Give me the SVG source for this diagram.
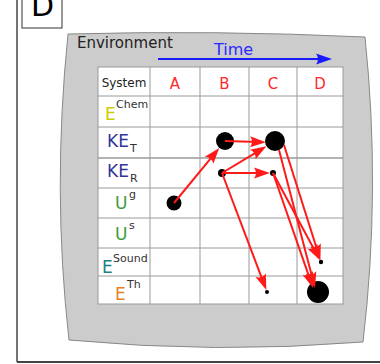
<svg xmlns="http://www.w3.org/2000/svg" width="380" height="364" viewBox="0 0 380 364">
<style>
text{font-family:"DejaVu Sans","Liberation Sans",sans-serif}
.grid{stroke:#9a9a9a;stroke-width:1;fill:none}
.hdr{font-size:15px;fill:#ff2a2a;text-anchor:middle}
.big{font-size:17px}
.small{font-size:11px;fill:#333}
.arr{stroke:#ff1a1a;stroke-width:2;fill:none;marker-end:url(#ah)}
.dot{fill:#000}
</style>
<defs>
<marker id="ah" markerUnits="userSpaceOnUse" orient="auto" markerWidth="30" markerHeight="30" refX="0" refY="0" overflow="visible">
<path d="M8,0 L-8,-5.5 Q-4,0 -8,5.5 Z" fill="#ff1a1a"/>
</marker>
<marker id="bh" markerUnits="userSpaceOnUse" orient="auto" markerWidth="30" markerHeight="30" refX="0" refY="0" overflow="visible">
<path d="M8,0 L-8,-5.5 Q-4,0 -8,5.5 Z" fill="#1a1aff"/>
</marker>
</defs>
<rect width="380" height="364" fill="#fff"/>
<!-- frame -->
<line x1="17" y1="0" x2="17" y2="362" stroke="#444" stroke-width="1.5"/>
<line x1="17" y1="362" x2="380" y2="362" stroke="#444" stroke-width="2"/>
<rect x="22" y="-2" width="40" height="30" fill="#fff" stroke="#333" stroke-width="1"/>
<text x="31" y="16" font-size="30" fill="#000">D</text>
<!-- environment -->
<path d="M68,34 Q215,30 365,37 Q381,190 363,342 Q215,354 69,340 Q52,190 68,34 Z" fill="#cccccc" stroke="#888" stroke-width="1"/>
<text x="77" y="48" font-size="15" fill="#222">Environment</text>
<text x="214" y="55" font-size="16" fill="#2a2aff">Time</text>
<line x1="158" y1="59" x2="324" y2="59" stroke="#1a1aff" stroke-width="2" marker-end="url(#bh)"/>
<!-- table -->
<rect x="98" y="67" width="245" height="237" fill="#fff"/>
<g class="grid">
<rect x="98" y="67" width="245" height="237"/>
<line x1="150" y1="67" x2="150" y2="304"/>
<line x1="200" y1="67" x2="200" y2="304"/>
<line x1="249" y1="67" x2="249" y2="304"/>
<line x1="297" y1="67" x2="297" y2="304"/>
<line x1="98" y1="96" x2="343" y2="96"/>
<line x1="98" y1="127" x2="343" y2="127"/>
<line x1="98" y1="158" x2="343" y2="158" stroke-width="1.5"/>
<line x1="98" y1="188" x2="343" y2="188"/>
<line x1="98" y1="218" x2="343" y2="218"/>
<line x1="98" y1="248" x2="343" y2="248"/>
<line x1="98" y1="276" x2="343" y2="276"/>
</g>
<text x="124" y="87" font-size="12" fill="#222" text-anchor="middle">System</text>
<text class="hdr" x="175" y="89">A</text>
<text class="hdr" x="224.5" y="89">B</text>
<text class="hdr" x="273" y="89">C</text>
<text class="hdr" x="320" y="89">D</text>
<!-- row labels -->
<text class="big" x="105" y="120" fill="#cccc00">E</text><text class="small" x="116" y="108">Chem</text>
<text class="big" x="107" y="147" fill="#333399">KE</text><text class="small" x="130" y="152">T</text>
<text class="big" x="107" y="177" fill="#333399">KE</text><text class="small" x="130" y="182">R</text>
<text class="big" x="115" y="209" fill="#3c9c3c">U</text><text class="small" x="129" y="198">g</text>
<text class="big" x="115" y="240" fill="#3c9c3c">U</text><text class="small" x="129" y="229">s</text>
<text class="big" x="102" y="273" fill="#1f8080">E</text><text class="small" x="113" y="262">Sound</text>
<text class="big" x="115" y="300" fill="#e8822a">E</text><text class="small" x="127" y="288">Th</text>
<!-- nodes -->
<g id="A-Ug"><circle class="dot" cx="174" cy="203" r="7.5"/></g>
<g id="B-KET"><circle class="dot" cx="225" cy="141" r="9"/></g>
<g id="C-KET"><circle class="dot" cx="275" cy="141" r="10"/></g>
<g id="B-KER"><circle class="dot" cx="222" cy="173" r="4"/></g>
<g id="C-KER"><circle class="dot" cx="273" cy="173" r="3"/></g>
<g id="D-ESound"><circle class="dot" cx="321" cy="262" r="2.2"/></g>
<g id="C-ETh"><circle class="dot" cx="267" cy="292" r="2"/></g>
<g id="D-ETh"><circle class="dot" cx="318" cy="292" r="11"/></g>
<!-- connectors -->
<g id="connectors">
<line class="arr" x1="174" y1="203" x2="214.2" y2="154.1"/>
<line class="arr" x1="225" y1="141" x2="258" y2="142"/>
<line class="arr" x1="222" y1="173" x2="259.6" y2="150.3"/>
<line class="arr" x1="222" y1="173" x2="262" y2="173"/>
<line class="arr" x1="222" y1="173" x2="263.5" y2="282.6"/>
<line class="arr" x1="273" y1="173" x2="316.2" y2="253.2"/>
<line class="arr" x1="284" y1="145" x2="318" y2="252.5"/>
<line class="arr" x1="279" y1="150" x2="313" y2="280.3"/>
<line class="arr" x1="273" y1="173" x2="310.4" y2="280.4"/>
</g>
</svg>
